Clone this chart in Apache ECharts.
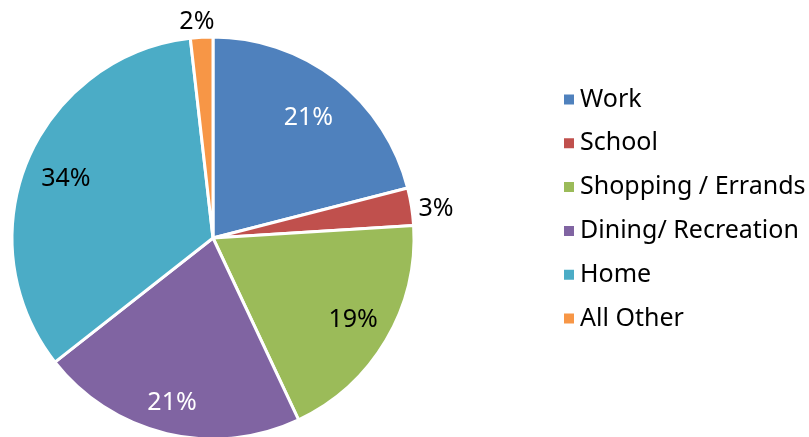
<!DOCTYPE html>
<html>
<head>
<meta charset="utf-8">
<script src="https://cdn.jsdelivr.net/npm/echarts@6/dist/echarts.min.js"></script>
<style>
  html, body { margin: 0; padding: 0; background: #fff; }
  #main { width: 809px; height: 437px; }
</style>
</head>
<body>
<div id="main"></div>
<script>
var categories = ['Work', 'School', 'Shopping / Errands', 'Dining/ Recreation', 'Home', 'All Other'];
var shares = [21, 3, 19, 21.4, 33.8, 1.8];
var colors = ['#4F81BD', '#C0504D', '#9BBB59', '#8064A2', '#4BACC6', '#F79646'];
var labelColors = ['#fff', '#000', '#000', '#fff', '#000', '#000'];
var outsideLabel = [false, true, false, false, false, true];
// small nudges so labels sit where the original put them
var labelNudge = [[-3, 7], [-2, 3], [2, 0], [-4, 9], [1, 3], [18, -11]];

var chart = echarts.init(document.getElementById('main'));
var font = '"Noto Sans", "Open Sans", sans-serif';

var mainData = categories.map(function (name, i) {
    return { name: name, value: shares[i], itemStyle: { color: colors[i] } };
});

// transparent ring used only to place the labels
var labelData = categories.map(function (name, i) {
    return {
        name: name,
        value: shares[i],
        label: outsideLabel[i]
            ? { position: 'outside', color: '#000' }
            : { position: 'inside', color: labelColors[i] }
    };
});

chart.setOption({
    animation: false,
    legend: {
        orient: 'vertical',
        left: 557,
        top: 82,
        data: categories,
        icon: 'rect',
        itemWidth: 12,
        itemHeight: 12,
        itemGap: 18.8,
        textStyle: { fontFamily: font, fontSize: 25, color: '#000', lineHeight: 24 }
    },
    series: [
        {
            type: 'pie',
            center: [213, 238],
            radius: [0, 201],
            startAngle: 90,
            clockwise: true,
            silent: true,
            label: { show: false },
            labelLine: { show: false },
            itemStyle: { borderColor: '#fff', borderWidth: 3 },
            data: mainData
        },
        {
            type: 'pie',
            center: [213, 238],
            radius: [114, 201],
            startAngle: 90,
            clockwise: true,
            silent: true,
            itemStyle: { color: 'rgba(0,0,0,0)', borderWidth: 0 },
            label: {
                show: true,
                fontFamily: font,
                fontSize: 25,
                formatter: function (p) { return Math.round(p.value) + '%'; }
            },
            labelLine: { show: false, length: 4, length2: 0 },
            labelLayout: function (p) {
                return { dx: labelNudge[p.dataIndex][0], dy: labelNudge[p.dataIndex][1] };
            },
            data: labelData
        }
    ]
});
</script>
</body>
</html>
